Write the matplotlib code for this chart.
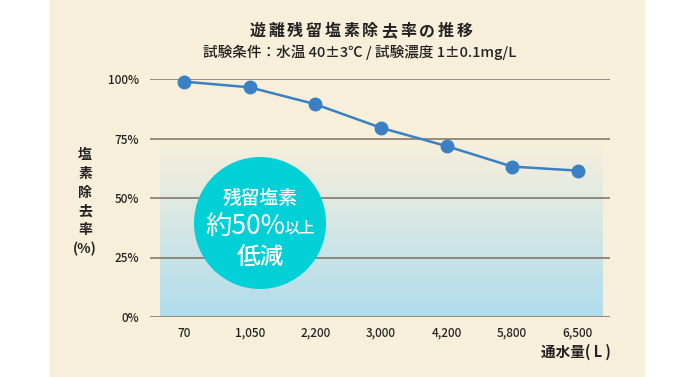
import numpy as np
import matplotlib
matplotlib.use("Agg")
import matplotlib.pyplot as plt
from matplotlib.patches import Rectangle, Ellipse
from matplotlib.colors import LinearSegmentedColormap

plt.rcParams['font.family'] = ['Noto Sans CJK JP', 'DejaVu Sans']
plt.rcParams['font.weight'] = 'medium'

# データ
通水量 = ["70", "1,050", "2,200", "3,000", "4,200", "5,800", "6,500"]
除去率 = [98.9, 96.5, 89.4, 79.5, 71.8, 63.2, 61.5]
y_ticks = [0, 25, 50, 75, 100]
y_labels = ["0%", "25%", "50%", "75%", "100%"]

W, H = 695, 377
fig = plt.figure(figsize=(W / 100, H / 100), dpi=100)
fig.patch.set_facecolor("white")

# ベージュの背景
fig.patches.append(Rectangle((50 / W, 0), 595 / W, 1, transform=fig.transFigure,
                             facecolor="#f7efd9", edgecolor="none", zorder=-5))

ax = fig.add_axes([150 / W, 1 - 317 / H, 460 / W, 238 / H])
ax.set_facecolor("none")
ax.set_xlim(-0.52, 6.49)
ax.set_ylim(0, 100)

# グラデーション
cmap = LinearSegmentedColormap.from_list("g", ["#b0dded", "#f6efdc"])
grad = np.linspace(0, 1, 200).reshape(-1, 1)
ax.imshow(grad, extent=(-0.37, 6.38, 0, 72), origin="lower", cmap=cmap,
          aspect="auto", zorder=1)

for v in y_ticks:
    ax.axhline(v, color="#857a6c", lw=1.2, zorder=2)

x = np.arange(len(通水量))
ax.plot(x, 除去率, color="#3a80c4", lw=1.8, marker="o", ms=9,
        zorder=5, clip_on=False)

ax.set_xticks(x)
ax.set_xticklabels(通水量, fontsize=8.5, color="#222222")
ax.set_yticks(y_ticks)
ax.set_yticklabels(y_labels, fontsize=8.5, color="#222222")
ax.tick_params(length=0, pad=8)
ax.tick_params(axis="x", pad=7)
for s in ax.spines.values():
    s.set_visible(False)

# 円
fig.patches.append(Ellipse((260 / W, 1 - 223 / H), 132 / W, 132 / H,
                           transform=fig.transFigure, facecolor="#02d0d7",
                           edgecolor="none", zorder=3))
fig.text(260 / W, 1 - 198 / H, "残留塩素", fontsize=13.5, color="white",
         ha="center", va="center", zorder=6)
fig.text(285 / W, 1 - 226 / H, "約50%", fontsize=19, color="white",
         fontweight="normal", ha="right", va="center", zorder=6)
fig.text(285 / W, 1 - 228 / H, "以上", fontsize=11, color="white",
         ha="left", va="center", zorder=6)
fig.text(260 / W, 1 - 257 / H, "低減", fontsize=17, color="white",
         ha="center", va="center", zorder=6)

# タイトル（字間あり）
title = "遊離残留塩素除去率の推移"
for i, ch in enumerate(title):
    fig.text((257.5 + 18.8 * i) / W, 1 - 36 / H, ch, fontsize=11.5,
             fontweight="bold", color="#222222", ha="center", va="baseline")
fig.text(360 / W, 1 - 52 / H, "試験条件：水温 40±3℃ / 試験濃度 1±0.1mg/L",
         fontsize=10.5, color="#222222", ha="center", va="center")

# 軸ラベル
for i, ch in enumerate(["塩", "素", "除", "去", "率", "(%)"]):
    fig.text(85 / W, 1 - (159 + 18.8 * i) / H, ch, fontsize=10,
             fontweight="bold", color="#222222", ha="center", va="baseline")
fig.text(611 / W, 1 - 352 / H, "通水量( L )", fontsize=10.5, color="#222222",
         fontweight="bold", ha="right", va="center")

fig.savefig("out.png", dpi=100)
